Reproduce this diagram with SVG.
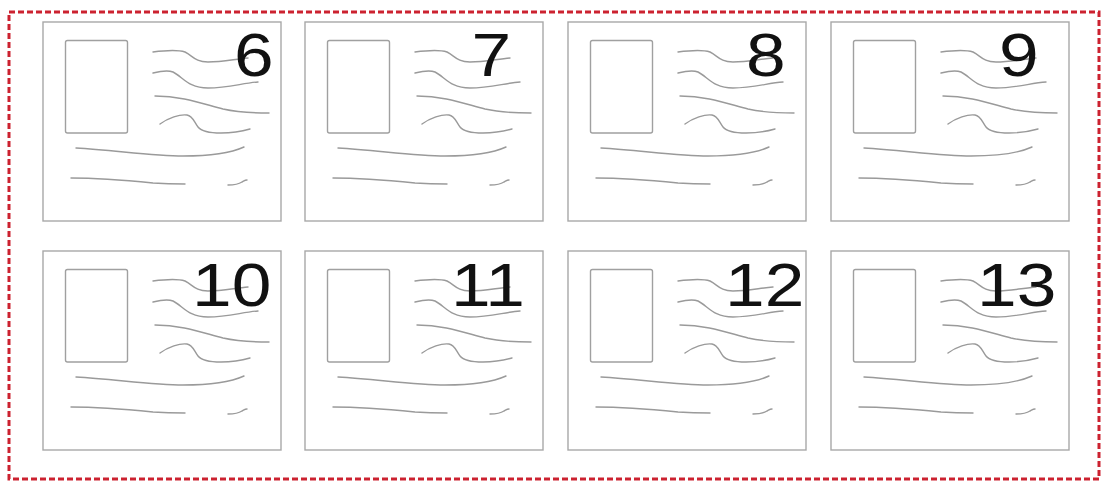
<svg xmlns="http://www.w3.org/2000/svg" xmlns:xlink="http://www.w3.org/1999/xlink" width="1103" height="481" viewBox="0 0 1103 481">
<style>
.frame{fill:none;stroke:#cc2230;stroke-width:3;stroke-dasharray:6 3}
.card{fill:#fff;stroke:#a8a8a8;stroke-width:1.4}
.stamp{fill:#fff;stroke:#a0a0a0;stroke-width:1.4}
.ln{fill:none;stroke:#9a9a9a;stroke-width:1.4;stroke-linecap:round}
.num{font-family:"Liberation Sans",Arial,sans-serif;font-size:62px;fill:#111}
</style>
<defs>
<g id="postcard">
<rect class="card" x="0" y="0" width="238" height="199"/>
<rect class="stamp" x="22.5" y="18.5" width="62" height="92.5" rx="2"/>
<path class="ln" d="M110,30 C125,28 136,28 142,30 C150,34 152,40 165,40 C180,40 192,37 205,36"/>
<path class="ln" d="M110,51 C118,49 125,48 130,50 C140,55 145,66 165,66 C185,66 200,61 215,60"/>
<path class="ln" d="M112,74 C140,74 160,82 180,87 C198,91 212,91 226,91"/>
<path class="ln" d="M117,102 C125,96 137,92 144,93 C150,94 151,100 155,105 C159,110 167,111 178,111 C190,111 200,109 207,107"/>
<path class="ln" d="M33,126 C70,128 110,134 140,134 C170,134 190,130 201,125"/>
<path class="ln" d="M28,156 C60,156 90,159 110,161 C125,162 135,162 142,162"/>
<path class="ln" d="M185,163 C192,163 196,162 199,160 C201,159 202,158 204,158"/>
</g>
</defs>
<rect id="outer-frame" class="frame" x="9" y="12" width="1090" height="467"/>
<g id="card-6"><use xlink:href="#postcard" x="43" y="22"/><text class="num" transform="translate(234,76) scale(1.15,1)">6</text></g>
<g id="card-7"><use xlink:href="#postcard" x="305" y="22"/><text class="num" transform="translate(471.5,76) scale(1.15,1)">7</text></g>
<g id="card-8"><use xlink:href="#postcard" x="568" y="22"/><text class="num" transform="translate(746,76) scale(1.15,1)">8</text></g>
<g id="card-9"><use xlink:href="#postcard" x="831" y="22"/><text class="num" transform="translate(999,76) scale(1.15,1)">9</text></g>
<g id="card-10"><use xlink:href="#postcard" x="43" y="251"/><text class="num" transform="translate(192,306) scale(1.15,1)">10</text></g>
<g id="card-11"><use xlink:href="#postcard" x="305" y="251"/><text class="num" transform="translate(451,306) scale(1.15,1)">11</text></g>
<g id="card-12"><use xlink:href="#postcard" x="568" y="251"/><text class="num" transform="translate(725,306) scale(1.15,1)">12</text></g>
<g id="card-13"><use xlink:href="#postcard" x="831" y="251"/><text class="num" transform="translate(977,306) scale(1.15,1)">13</text></g>
<g id="connectors"/>
</svg>
